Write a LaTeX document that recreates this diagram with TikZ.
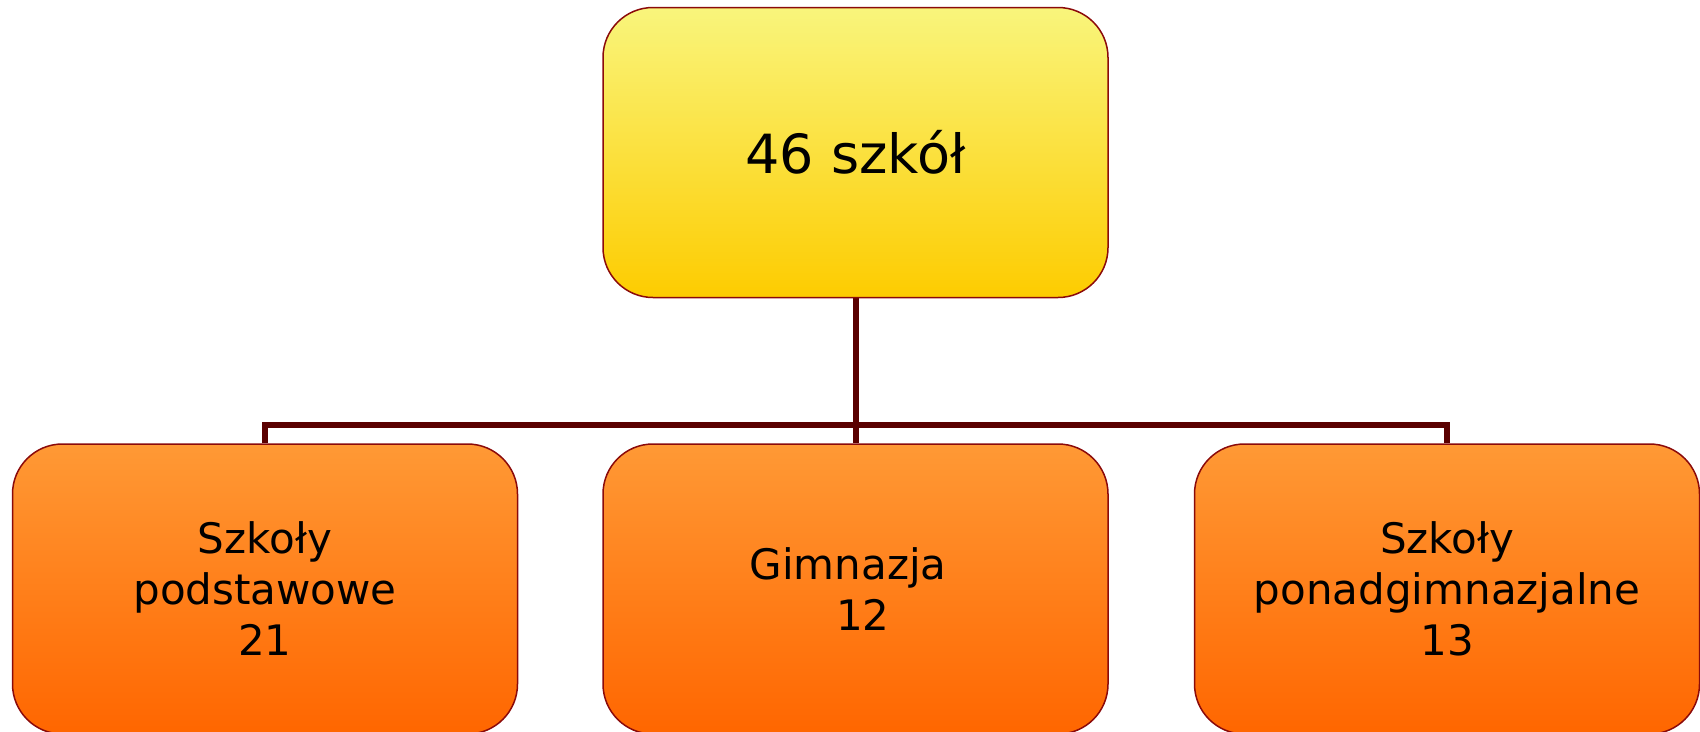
\documentclass[tikz,border=0pt]{standalone}
\usepackage{fontspec}
\setmainfont{DejaVu Sans}
\usetikzlibrary{backgrounds}
\definecolor{bordercol}{HTML}{8B0A0A}
\definecolor{linecol}{HTML}{5A0000}
\definecolor{ytop}{HTML}{F9F57C}
\definecolor{ybot}{HTML}{FDCC00}
\definecolor{otop}{HTML}{FF9935}
\definecolor{obot}{HTML}{FF6600}
\tikzset{
  boxbase/.style={draw=bordercol, line width=1.5pt, rounded corners=50pt,
    minimum width=505pt, minimum height=290pt, inner sep=0pt, align=center,
    text=black},
  topbox/.style={boxbase, top color=ytop, bottom color=ybot,
    font=\fontsize{54}{64}\selectfont},
  subbox/.style={boxbase, top color=otop, bottom color=obot,
    font=\fontsize{42}{51}\selectfont},
  conn/.style={draw=linecol, line width=6pt}
}
\begin{document}
\begin{tikzpicture}[x=1pt,y=-1pt]
\useasboundingbox (0,0) rectangle (1700,731);
\node[topbox] (top) at (855.5,152.5) {46 szkół};
\node[subbox] (l) at (265,589) {Szkoły\\podstawowe\\21};
\node[subbox] (m) at (855.5,589) {Gimnazja\hspace*{0.35em}\\\hspace*{0.35em}12};
\node[subbox] (r) at (1447,589) {Szkoły\\ponadgimnazjalne\\13};
\coordinate (bus) at (855.5,425);
\begin{pgfonlayer}{background}
\draw[conn] (top.south) -- (m.north);
\draw[conn] (l.north) |- (bus) -| (r.north);
\end{pgfonlayer}
\end{tikzpicture}
\end{document}
